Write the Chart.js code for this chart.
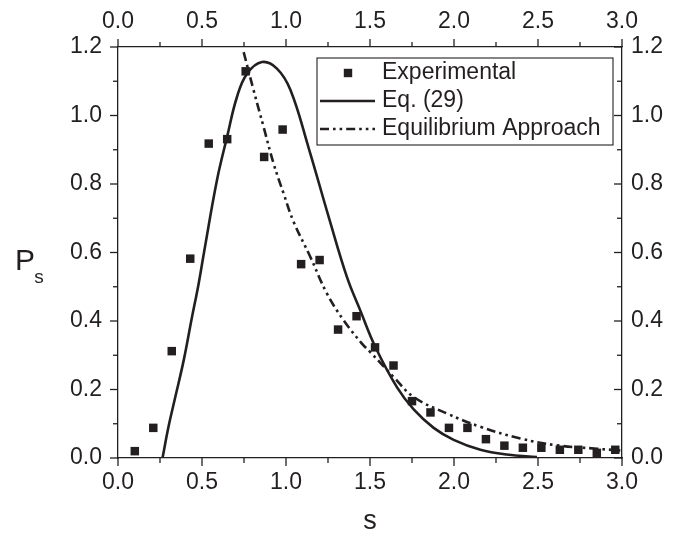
<!DOCTYPE html>
<html>
<head>
<meta charset="utf-8">
<script src="https://cdn.jsdelivr.net/npm/chart.js@4/dist/chart.umd.min.js"></script>
<style>
body { margin: 0; background: #fff; }
#chartBox { width: 683px; height: 536px; }
</style>
</head>
<body>
<div id="chartBox"><canvas id="psChart" width="683" height="536"></canvas></div>
<script>
// experimental points
var expS = [0.10, 0.21, 0.32, 0.43, 0.54, 0.65, 0.76, 0.87, 0.98, 1.09, 1.20, 1.31, 1.42, 1.53, 1.64, 1.75, 1.86, 1.97, 2.08, 2.19, 2.30, 2.41, 2.52, 2.63, 2.74, 2.85, 2.96];
var expP = [0.020, 0.088, 0.312, 0.582, 0.918, 0.931, 1.129, 0.879, 0.959, 0.566, 0.578, 0.375, 0.414, 0.323, 0.270, 0.166, 0.133, 0.088, 0.088, 0.055, 0.036, 0.030, 0.030, 0.024, 0.024, 0.015, 0.024];

// Eq. (29)
var eqS = [0.265, 0.30, 0.341, 0.391, 0.44, 0.48, 0.514, 0.589, 0.649, 0.708, 0.768, 0.857, 0.946, 1.026, 1.135, 1.254, 1.363, 1.442, 1.532, 1.66, 1.76, 1.879, 1.998, 2.157, 2.315, 2.494];
var eqP = [0.0, 0.09, 0.178, 0.285, 0.41, 0.509, 0.606, 0.811, 0.937, 1.054, 1.122, 1.156, 1.137, 1.075, 0.905, 0.704, 0.528, 0.431, 0.324, 0.207, 0.142, 0.088, 0.053, 0.024, 0.010, 0.003];

// equilibrium approach
var equilS = [0.748, 0.807, 0.867, 0.926, 0.986, 1.045, 1.145, 1.244, 1.343, 1.452, 1.50, 1.64, 1.76, 1.958, 2.157, 2.395, 2.613, 2.851, 2.99];
var equilP = [1.185, 1.074, 0.966, 0.86, 0.772, 0.69, 0.587, 0.48, 0.402, 0.334, 0.31, 0.237, 0.178, 0.13, 0.091, 0.057, 0.037, 0.027, 0.022];

var xTicks = [0.0, 0.5, 1.0, 1.5, 2.0, 2.5, 3.0];
var xMinorTicks = [0.25, 0.75, 1.25, 1.75, 2.25, 2.75];
var yTicks = [0.0, 0.2, 0.4, 0.6, 0.8, 1.0, 1.2];
var yMinorTicks = [0.1, 0.3, 0.5, 0.7, 0.9, 1.1];

var ink = "#231f20";
var fontFam = "'Liberation Sans', Arial, sans-serif";

function toPoints(xs, ys)
{
    var pts = [];
    for (var i = 0; i < xs.length; i++)
    {
        pts.push({x: xs[i], y: ys[i]});
    }
    return pts;
}

function setTicks(list)
{
    return function (scale) {
        scale.ticks = list.map(function (v) { return {value: v}; });
    };
}

function fixSize(prop, size)
{
    return function (scale) { scale[prop] = size; };
}

function axis(position, ticks, pad, sizeProp, size)
{
    return {
        type: "linear",
        position: position,
        min: 0,
        max: (sizeProp == "height") ? 3 : 1.2,
        afterBuildTicks: setTicks(ticks),
        afterFit: fixSize(sizeProp, size),
        grid: { display: false },
        border: { display: true, color: ink, width: 1.3 },
        ticks: {
            color: ink,
            padding: pad,
            font: { family: fontFam, size: 23 },
            callback: function (v) { return v.toFixed(1); }
        }
    };
}

// tick marks: outward on bottom, top and left, inward on the right
var tickPlugin = {
    id: "tickMarks",
    afterDraw: function (chart) {
        var ctx = chart.ctx;
        var area = chart.chartArea;
        var s = chart.scales;
        ctx.save();
        ctx.strokeStyle = ink;
        ctx.lineWidth = 1.3;
        function mark(x1, y1, x2, y2)
        {
            ctx.beginPath();
            ctx.moveTo(x1, y1);
            ctx.lineTo(x2, y2);
            ctx.stroke();
        }
        [[xTicks, 8], [xMinorTicks, 5]].forEach(function (t) {
            t[0].forEach(function (v) {
                var px = s.x.getPixelForValue(v);
                mark(px, area.bottom, px, area.bottom + t[1]);
                var px2 = s.x2.getPixelForValue(v);
                mark(px2, area.top, px2, area.top - t[1]);
            });
        });
        [[yTicks, 8], [yMinorTicks, 5]].forEach(function (t) {
            t[0].forEach(function (v) {
                var py = s.y.getPixelForValue(v);
                mark(area.left, py, area.left - t[1], py);
                var py2 = s.y2.getPixelForValue(v);
                mark(area.right, py2, area.right - t[1], py2);
            });
        });
        ctx.restore();
    }
};

var legendPlugin = {
    id: "boxLegend",
    afterDraw: function (chart) {
        var ctx = chart.ctx;
        var ds = chart.data.datasets;
        ctx.save();
        ctx.fillStyle = "#fff";
        ctx.fillRect(317, 58, 296, 87);
        ctx.strokeStyle = ink;
        ctx.lineWidth = 1.1;
        ctx.strokeRect(317, 58, 296, 87);

        ctx.fillStyle = ink;
        ctx.fillRect(348 - 4.2, 73 - 4.2, 8.4, 8.4);

        ctx.lineWidth = 2.6;
        ctx.beginPath();
        ctx.moveTo(320, 101);
        ctx.lineTo(375, 101);
        ctx.stroke();

        ctx.setLineDash(ds[2].borderDash);
        ctx.beginPath();
        ctx.moveTo(320, 129);
        ctx.lineTo(375, 129);
        ctx.stroke();
        ctx.setLineDash([]);

        ctx.font = "23px " + fontFam;
        ctx.textBaseline = "middle";
        ctx.fillText(ds[0].label, 382, 73);
        ctx.fillText(ds[1].label, 382, 101);
        ctx.fillText(ds[2].label, 382, 129);

        // axis titles
        ctx.textAlign = "center";
        ctx.font = "27px " + fontFam;
        ctx.fillText("s", 370, 522);
        ctx.font = "30px " + fontFam;
        ctx.fillText("P", 25, 262);
        ctx.font = "19px " + fontFam;
        ctx.fillText("s", 39, 278);
        ctx.restore();
    }
};

var psChart = new Chart(document.getElementById("psChart"), {
    type: "scatter",
    data: {
        datasets: [
            {
                label: "Experimental",
                data: toPoints(expS, expP),
                pointStyle: "rect",
                pointRadius: 6,
                pointBorderWidth: 0,
                backgroundColor: ink,
                borderColor: ink
            },
            {
                label: "Eq. (29)",
                data: toPoints(eqS, eqP),
                showLine: true,
                pointRadius: 0,
                borderColor: ink,
                borderWidth: 2.6,
                tension: 0.4
            },
            {
                label: "Equilibrium Approach",
                data: toPoints(equilS, equilP),
                showLine: true,
                pointRadius: 0,
                borderColor: ink,
                borderWidth: 2.6,
                borderDash: [9, 4, 2.6, 4, 2.6, 4],
                tension: 0.4
            }
        ]
    },
    options: {
        responsive: false,
        animation: false,
        layout: { padding: 0 },
        plugins: {
            legend: { display: false },
            tooltip: { enabled: false }
        },
        scales: {
            x: axis("bottom", xTicks, 3, "height", 78),
            x2: axis("top", xTicks, 4, "height", 47),
            y: axis("left", yTicks, 8, "width", 118),
            y2: axis("right", yTicks, 1, "width", 61)
        }
    },
    plugins: [tickPlugin, legendPlugin]
});
</script>
</body>
</html>
